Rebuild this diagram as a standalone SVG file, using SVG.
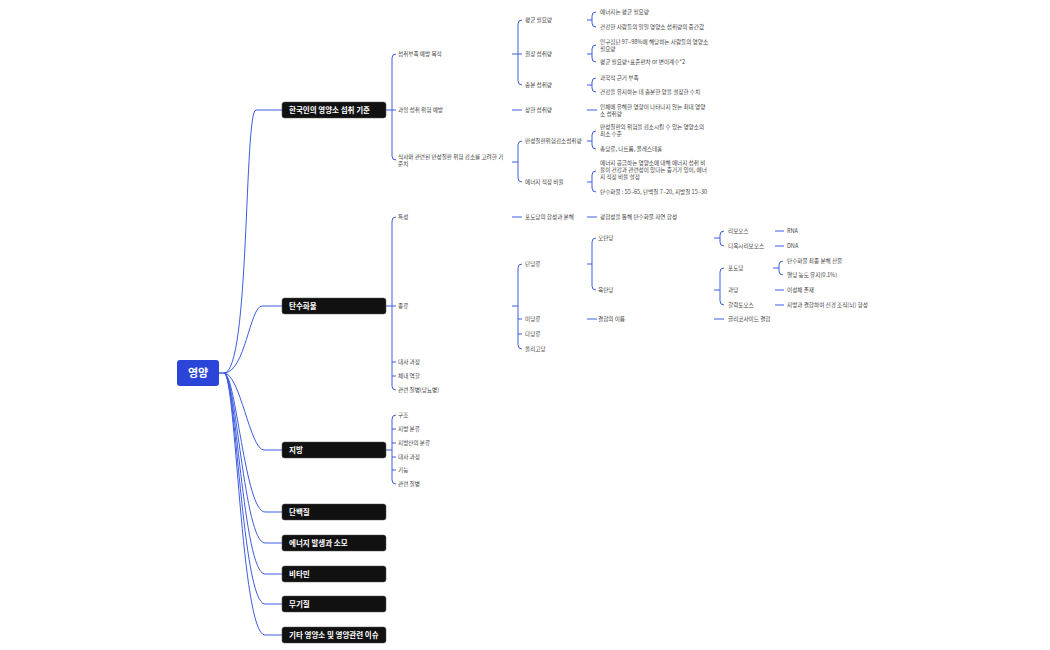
<svg xmlns="http://www.w3.org/2000/svg" width="1050" height="650" viewBox="0 0 1050 650">
<style>
text{font-family:"Noto Sans CJK KR","Noto Sans",sans-serif}
.t{font-size:5.6px;fill:#444}
.m{font-size:7.5px;font-weight:bold;fill:#fff}
.mb{fill:#111;stroke:#555;stroke-width:0.5}
.c{fill:none;stroke:#3d5ce0;stroke-width:1}
</style>
<rect width="1050" height="650" fill="#fff"/>
<g id="connectors">
<path class="c" d="M218,373 H224 C250,373 244,110 256,110 H282"/>
<path class="c" d="M218,373 H224 C245,373 250,306 262,306 H282"/>
<path class="c" d="M224,373 C240,373 250,450 264,450 H282"/>
<path class="c" d="M224,373 C236,373 245,512 265,512 H282"/>
<path class="c" d="M224,373 C236,373 244,543 265,543 H282"/>
<path class="c" d="M224,373 C236,373 243,574 265,574 H282"/>
<path class="c" d="M224,373 C236,373 242,604 265,604 H282"/>
<path class="c" d="M224,373 C236,373 241,635 265,635 H282"/>
<!-- level2 brackets -->
<path class="c" d="M386,110 H392 M396,54 Q392,54 392,58 V156 Q392,160 396,160 M392,110 H396"/>
<path class="c" d="M386,306 H392 M396,217 Q392,217 392,221 V386 Q392,390 396,390 M392,306 H396 M392,362 H396 M392,376 H396"/>
<path class="c" d="M386,450 H392 M396,415 Q392,415 392,419 V480 Q392,484 396,484 M392,429 H396 M392,443 H396 M392,457 H396 M392,470 H396"/>
<!-- level3 -->
<path class="c" d="M512,54 H518 M522,20 Q518,20 518,24 V81 Q518,85 522,85 M518,54 H522"/>
<path class="c" d="M512,110 H522"/>
<path class="c" d="M512,162 H518 M522,141 Q518,141 518,145 V178 Q518,182 522,182"/>
<path class="c" d="M512,217 H522"/>
<path class="c" d="M512,306 H518 M522,264 Q518,264 518,268 V345 Q518,349 522,349 M518,319 H522 M518,334 H522"/>
<!-- level4 -->
<path class="c" d="M587,20 H592 M596,12 Q592,12 592,16 V23 Q592,27 596,27"/>
<path class="c" d="M587,54 H592 M596,45 Q592,45 592,49 V58 Q592,62 596,62"/>
<path class="c" d="M587,85 H592 M596,78 Q592,78 592,82 V88 Q592,92 596,92"/>
<path class="c" d="M587,110 H597"/>
<path class="c" d="M587,141 H592 M596,131 Q592,131 592,135 V145 Q592,149 596,149"/>
<path class="c" d="M587,182 H592 M596,171 Q592,171 592,175 V188 Q592,192 596,192"/>
<path class="c" d="M587,217 H597"/>
<path class="c" d="M587,264 H592 M596,238 Q592,238 592,242 V286 Q592,290 596,290"/>
<path class="c" d="M587,319 H597"/>
<!-- level5 -->
<path class="c" d="M714,238 H720 M724,231 Q720,231 720,235 V242 Q720,246 724,246"/>
<path class="c" d="M714,290 H720 M724,268 Q720,268 720,272 V301 Q720,305 724,305"/>
<path class="c" d="M714,319 H724"/>
<!-- level6 -->
<path class="c" d="M775,231 H784 M775,246 H784"/>
<path class="c" d="M773,268 H779 M783,261 Q779,261 779,265 V271 Q779,275 783,275"/>
<path class="c" d="M775,290 H784 M775,305 H784"/>
</g>
<g id="root"><rect x="177" y="360" width="42" height="26" rx="3" fill="#2a45d8"/><text x="198" y="377" font-size="11" font-weight="bold" fill="#fff" text-anchor="middle">영양</text></g>
<g id="main">
<g id="n1"><rect class="mb" x="282" y="102" width="104" height="16" rx="2.5"/><text class="m" x="289" y="113">한국인의 영양소 섭취 기준</text></g>
<g id="n2"><rect class="mb" x="282" y="298" width="104" height="16" rx="2.5"/><text class="m" x="289" y="309">탄수화물</text></g>
<g id="n3"><rect class="mb" x="282" y="442" width="104" height="16" rx="2.5"/><text class="m" x="289" y="453">지방</text></g>
<g id="n4"><rect class="mb" x="282" y="504" width="104" height="16" rx="2.5"/><text class="m" x="289" y="515">단백질</text></g>
<g id="n5"><rect class="mb" x="282" y="535" width="104" height="16" rx="2.5"/><text class="m" x="289" y="546">에너지 발생과 소모</text></g>
<g id="n6"><rect class="mb" x="282" y="566" width="104" height="16" rx="2.5"/><text class="m" x="289" y="577">비타민</text></g>
<g id="n7"><rect class="mb" x="282" y="596" width="104" height="16" rx="2.5"/><text class="m" x="289" y="607">무기질</text></g>
<g id="n8"><rect class="mb" x="282" y="627" width="104" height="16" rx="2.5"/><text class="m" x="289" y="638">기타 영양소 및 영양관련 이슈</text></g>
</g>
<g id="labels">
<text class="t" x="398" y="56">섭취부족 예방 목적</text>
<text class="t" x="398" y="112">과잉 섭취 위험 예방</text>
<text class="t" x="398" y="159">식사와 관련된 만성질환 위험 감소를 고려한 기</text>
<text class="t" x="398" y="166">준치</text>
<text class="t" x="525" y="22">평균 필요량</text>
<text class="t" x="525" y="56">권장 섭취량</text>
<text class="t" x="525" y="87">충분 섭취량</text>
<text class="t" x="525" y="112">상한 섭취량</text>
<text class="t" x="525" y="143">만성질환위험감소섭취량</text>
<text class="t" x="525" y="184">에너지 적정 비율</text>
<text class="t" x="600" y="14">에너지는 평균 필요량</text>
<text class="t" x="600" y="29">건강한 사람들의 일일 영양소 섭취량의 중간값</text>
<text class="t" x="600" y="44">인구집단 97~98%에 해당하는 사람들의 영양소</text>
<text class="t" x="600" y="51">필요량</text>
<text class="t" x="600" y="64">평균 필요량+표준편차 or 변이계수*2</text>
<text class="t" x="600" y="80">과학적 근거 부족</text>
<text class="t" x="600" y="94">건강을 유지하는 데 충분한 양을 설정한 수치</text>
<text class="t" x="600" y="109">인체에 유해한 영향이 나타나지 않는 최대 영양</text>
<text class="t" x="600" y="116">소 섭취량</text>
<text class="t" x="600" y="129">만성질환의 위험을 감소시킬 수 있는 영양소의</text>
<text class="t" x="600" y="136">최소 수준</text>
<text class="t" x="600" y="151">총당류, 나트륨, 콜레스테롤</text>
<text class="t" x="600" y="165">에너지 공급하는 영양소에 대해 에너지 섭취 비</text>
<text class="t" x="600" y="172">율이 건강과 관련성이 있다는 증거가 있어, 에너</text>
<text class="t" x="600" y="179">지 적정 비율 설정</text>
<text class="t" x="600" y="194">탄수화물 : 55~65, 단백질 7~20, 지방질 15~30</text>
<text class="t" x="398" y="219">특성</text>
<text class="t" x="398" y="308">종류</text>
<text class="t" x="398" y="364">대사 과정</text>
<text class="t" x="398" y="378">체내 역할</text>
<text class="t" x="398" y="392">관련 질병(당뇨병)</text>
<text class="t" x="525" y="219">포도당의 합성과 분해</text>
<text class="t" x="525" y="266">단당류</text>
<text class="t" x="525" y="321">이당류</text>
<text class="t" x="525" y="336">다당류</text>
<text class="t" x="525" y="351">올리고당</text>
<text class="t" x="600" y="219">광합성을 통해 탄수화물 자연 합성</text>
<text class="t" x="598" y="240">오탄당</text>
<text class="t" x="598" y="292">육탄당</text>
<text class="t" x="598" y="321">결합의 이름</text>
<text class="t" x="728" y="233">리보오스</text>
<text class="t" x="728" y="248">디옥시리보오스</text>
<text class="t" x="728" y="270">포도당</text>
<text class="t" x="728" y="292">과당</text>
<text class="t" x="728" y="307">갈락토오스</text>
<text class="t" x="728" y="321">글리코사이드 결합</text>
<text class="t" x="787" y="233">RNA</text>
<text class="t" x="787" y="248">DNA</text>
<text class="t" x="787" y="263">탄수화물 최종 분해 산물</text>
<text class="t" x="787" y="277">혈당 농도 유지(0.1%)</text>
<text class="t" x="787" y="292">이성체 존재</text>
<text class="t" x="787" y="307">지방과 결합하여 신경 조직(뇌) 형성</text>
<text class="t" x="398" y="417">구조</text>
<text class="t" x="398" y="431">지방 분류</text>
<text class="t" x="398" y="445">지방산의 분류</text>
<text class="t" x="398" y="459">대사 과정</text>
<text class="t" x="398" y="472">기능</text>
<text class="t" x="398" y="486">관련 질병</text>
</g>
</svg>
